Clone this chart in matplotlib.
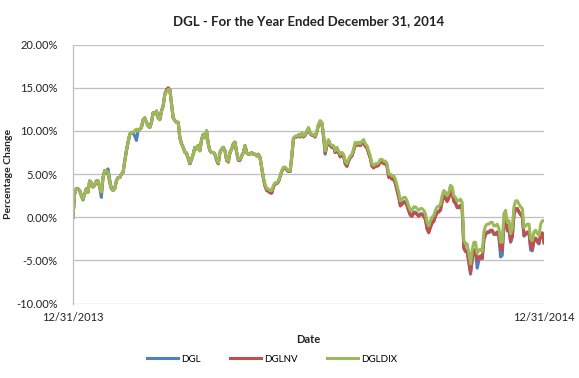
import matplotlib
matplotlib.use("Agg")
import matplotlib.pyplot as plt
import matplotlib.dates as mdates
import numpy as np
from matplotlib.ticker import FuncFormatter
import datetime as dt

start_date = dt.date(2013, 12, 31)
end_date = dt.date(2014, 12, 31)
series_names = ["DGL", "DGLNV", "DGLDIX"]
y_ticks = [-10, -5, 0, 5, 10, 15, 20]

dgldix = [
    0.0, 2.7, 3.3, 3.3, 3.1, 2.5, 2.1, 2.7, 3.3, 2.9,
    4.2, 4.0, 3.5, 3.7, 4.2, 4.2, 3.5, 2.9, 4.6, 5.4,
    5.4, 5.2, 4.2, 3.3, 3.1, 3.3, 4.2, 4.6, 4.6, 5.0,
    5.2, 6.5, 7.7, 8.7, 9.6, 9.8, 9.8, 10.0, 10.2, 10.0,
    10.2, 10.4, 11.3, 11.5, 11.0, 10.6, 10.4, 11.0, 12.1, 11.9,
    12.3, 11.5, 11.3, 12.3, 12.9, 14.2, 14.6, 14.8, 14.8,
    13.1, 11.5, 11.2, 11.0, 11.0, 9.2, 8.5, 8.1, 7.5, 7.5,
    6.9, 6.3, 6.7, 7.3, 8.1, 7.9, 8.3, 7.7, 9.0, 9.6,
    9.2, 10.0, 8.5, 7.7, 7.5, 7.5, 7.3, 6.7, 6.3, 7.5,
    7.9, 8.1, 7.7, 6.7, 6.5, 7.5, 7.9, 8.5, 8.7, 7.5,
    6.7, 6.7, 7.1, 7.5, 8.3, 7.5, 7.3, 7.3, 7.5, 7.3,
    7.3, 7.1, 7.3, 6.9, 5.8, 4.6, 3.8,
    3.3, 3.3, 3.1, 3.1, 3.7, 4.0, 4.0, 4.2, 4.8, 5.4,
    5.8, 5.8, 5.6, 5.4, 5.4, 7.1, 9.2, 9.4, 9.4, 9.6,
    9.4, 9.8, 9.4, 9.6, 10.0, 10.4, 9.8, 9.6, 9.6, 9.4,
    10.0, 10.8, 11.2, 11.0, 9.6, 7.7, 8.5, 9.0, 8.5, 8.3,
    8.3, 7.7, 8.1, 7.7, 7.3, 7.5, 7.3, 6.5, 6.2, 6.7,
    7.1, 7.3, 7.9, 8.7, 8.5, 8.7, 8.5,
    8.8, 9.0, 8.5, 8.3, 7.7, 7.1, 6.2, 6.0, 6.2, 6.2,
    6.3, 6.7, 6.7, 6.5, 6.5, 6.2, 5.0, 5.0, 4.8, 4.8,
    4.4, 3.7, 2.9, 1.9, 2.1, 2.3, 2.3, 1.9, 1.3, 0.8,
    0.8, 1.2, 1.2, 1.0, 0.8, 1.0, 1.0, 0.8, 0.4, -0.6,
    -1.0, -0.4, 0.0, 0.2, 0.8, 1.2, 1.3, 1.5, 2.5, 3.1,
    2.9, 2.5, 2.9, 3.7, 3.5, 2.5, 2.3,
    1.9, 1.9, 2.1, 1.7, -2.7, -3.1, -3.1, -4.2, -5.4, -3.8,
    -2.9, -2.9, -4.2, -3.8, -3.7, -4.0, -1.7, -1.0, -0.8, -0.8,
    -0.6, -0.6, -1.0, -1.0, -0.8, -1.3, -2.9, -2.9, 0.4, 0.8,
    -0.6, -0.4, -1.9, -1.3, 1.2, 1.9, 1.9, 1.5, 1.2, 1.0,
    -1.2, -1.0, -0.8, -0.8, -2.5, -2.7, -1.7, -1.5, -1.9, -2.1,
    -0.8, -0.4, -0.4,
]

dglnv = [
    0.0, 2.7, 3.3, 3.3, 3.1, 2.5, 2.1, 2.7, 3.3, 2.9,
    4.2, 4.0, 3.5, 3.7, 4.2, 4.2, 3.5, 2.8, 4.6, 5.4,
    5.4, 5.0, 4.0, 3.3, 3.1, 3.3, 4.2, 4.6, 4.6, 5.0,
    5.2, 6.5, 7.7, 8.7, 9.6, 9.8, 9.8, 10.0, 10.1, 10.0,
    10.2, 10.4, 11.3, 11.5, 11.0, 10.6, 10.4, 11.0, 12.1, 11.9,
    12.3, 11.5, 11.3, 12.3, 12.9, 14.3, 14.8, 15.0, 14.8,
    13.1, 11.5, 11.2, 11.0, 11.0, 9.2, 8.5, 8.1, 7.5, 7.4,
    6.8, 6.2, 6.7, 7.3, 8.1, 7.9, 8.3, 7.7, 9.0, 9.6,
    9.2, 10.0, 8.5, 7.7, 7.5, 7.5, 7.3, 6.6, 6.2, 7.5,
    7.9, 8.1, 7.7, 6.6, 6.4, 7.5, 7.9, 8.5, 8.7, 7.5,
    6.6, 6.6, 7.1, 7.5, 8.3, 7.5, 7.3, 7.3, 7.5, 7.3,
    7.3, 7.1, 7.3, 6.9, 5.7, 4.5, 3.6,
    3.1, 3.0, 2.9, 2.8, 3.5, 3.9, 3.9, 4.1, 4.7, 5.3,
    5.7, 5.7, 5.5, 5.3, 5.3, 7.0, 9.1, 9.3, 9.3, 9.5,
    9.3, 9.7, 9.3, 9.5, 9.9, 10.3, 9.7, 9.5, 9.5, 9.3,
    9.9, 10.7, 11.1, 10.9, 9.4, 7.5, 8.3, 8.9, 8.3, 8.1,
    8.1, 7.5, 7.9, 7.5, 7.0, 7.3, 7.1, 6.2, 5.9, 6.5,
    6.9, 7.1, 7.7, 8.5, 8.3, 8.5, 8.3,
    8.5, 8.7, 8.2, 8.0, 7.4, 6.8, 5.9, 5.7, 5.9, 5.9,
    6.0, 6.4, 6.4, 6.2, 6.2, 5.9, 4.6, 4.6, 4.4, 4.4,
    3.9, 3.1, 2.3, 1.3, 1.5, 1.7, 1.7, 1.3, 0.7, 0.2,
    0.1, 0.5, 0.5, 0.3, 0.1, 0.3, 0.3, 0.1, -0.3, -1.4,
    -1.8, -1.2, -0.7, -0.5, 0.1, 0.5, 0.6, 0.8, 1.8, 2.4,
    2.2, 1.8, 2.2, 3.0, 2.8, 1.8, 1.6,
    1.1, 1.1, 1.3, 0.9, -3.6, -4.0, -4.0, -5.2, -6.4, -4.8,
    -3.8, -3.8, -5.0, -4.6, -4.5, -4.8, -2.6, -1.9, -1.7, -1.7,
    -1.5, -1.5, -1.9, -1.9, -1.7, -2.2, -3.8, -3.8, -0.5, -0.1,
    -1.5, -1.3, -2.8, -2.2, 0.3, 1.0, 1.0, 0.6, 0.3, 0.1,
    -2.1, -1.9, -1.7, -1.7, -3.5, -3.7, -2.6, -2.4, -2.8, -3.0,
    -1.9, -1.8, -2.9,
]

dgl = [
    0.0, 2.7, 3.3, 3.3, 3.1, 2.5, 2.0, 2.7, 3.3, 2.9,
    4.2, 4.0, 3.5, 3.7, 4.2, 4.2, 3.5, 2.3, 4.6, 5.4,
    5.4, 5.6, 4.4, 3.3, 3.1, 3.3, 4.2, 4.6, 4.6, 5.0,
    5.2, 6.5, 7.7, 8.7, 9.6, 9.8, 9.8, 9.4, 8.9, 10.0,
    10.2, 10.4, 11.3, 11.5, 11.0, 10.6, 10.4, 11.0, 12.1, 11.9,
    12.3, 11.5, 11.3, 12.3, 12.9, 14.2, 14.6, 14.8, 14.8,
    13.1, 11.5, 11.2, 11.0, 11.0, 9.2, 8.5, 8.1, 7.5, 7.4,
    6.8, 6.2, 6.7, 7.3, 8.1, 7.9, 8.3, 7.7, 9.0, 9.6,
    9.2, 10.0, 8.5, 7.7, 7.5, 7.5, 7.3, 6.6, 6.2, 7.5,
    7.9, 8.1, 7.7, 6.6, 6.4, 7.5, 7.9, 8.5, 8.7, 7.5,
    6.6, 6.6, 7.1, 7.5, 8.3, 7.5, 7.3, 7.3, 7.5, 7.3,
    7.3, 7.1, 7.3, 6.9, 5.7, 4.5, 3.6,
    3.1, 3.0, 2.8, 2.8, 3.5, 3.9, 3.9, 4.1, 4.7, 5.3,
    5.7, 5.7, 5.5, 5.3, 5.3, 7.0, 9.1, 9.3, 9.3, 9.5,
    9.3, 9.7, 9.3, 9.5, 9.9, 10.3, 9.7, 9.5, 9.5, 9.3,
    9.9, 10.7, 11.1, 10.9, 9.4, 7.3, 8.3, 8.9, 8.3, 8.1,
    8.1, 7.5, 7.9, 7.5, 7.0, 7.3, 7.1, 6.2, 5.9, 6.5,
    6.9, 7.1, 7.7, 8.5, 8.3, 8.5, 8.3,
    8.6, 8.8, 8.3, 8.1, 7.5, 6.9, 6.0, 5.8, 6.0, 6.0,
    6.1, 6.5, 6.5, 6.3, 6.3, 6.0, 4.7, 4.7, 4.5, 4.5,
    4.0, 3.2, 2.4, 1.4, 1.6, 1.8, 1.8, 1.4, 0.8, 0.3,
    0.2, 0.6, 0.6, 0.4, 0.2, 0.4, 0.4, 0.2, -0.2, -1.3,
    -1.7, -1.1, -0.6, -0.4, 0.2, 0.6, 0.7, 0.9, 1.9, 2.5,
    2.3, 1.9, 2.3, 3.1, 2.9, 1.9, 1.7,
    1.2, 1.2, 1.4, 1.0, -3.5, -3.9, -3.9, -5.3, -6.6, -5.0,
    -3.8, -3.9, -5.9, -5.0, -4.5, -4.8, -2.6, -2.0, -1.8, -1.8,
    -1.6, -1.6, -2.0, -2.0, -1.8, -2.3, -4.6, -4.4, -0.5, -0.1,
    -1.6, -1.4, -2.9, -2.3, 0.3, 1.0, 1.0, 0.6, 0.3, 0.1,
    -2.2, -2.0, -1.8, -1.8, -3.8, -3.9, -2.7, -2.5, -2.9, -3.1,
    -2.0, -1.9, -3.0,
]

plt.rcParams['font.family'] = ['Lato', 'DejaVu Sans']

fig = plt.figure(figsize=(5.79, 3.78), dpi=100)
ax = fig.add_axes([0.126, 0.197, 0.8136, 0.685])

n = len(dgldix)
x0 = mdates.date2num(start_date)
x1 = mdates.date2num(end_date)
xs = np.linspace(x0, x1, n)

colors = ["#4F81BD", "#C0504D", "#9BBB59"]
for name, vals, c in zip(series_names, [dgl, dglnv, dgldix], colors):
    ax.plot(xs, vals, color=c, lw=2.2, label=name, solid_joinstyle='round')

ax.set_xlim(x0, x1)
ax.set_ylim(min(y_ticks), max(y_ticks))
ax.set_yticks(y_ticks)
ax.yaxis.set_major_formatter(FuncFormatter(lambda v, p: f"{v:.2f}%"))
ax.set_xticks([x0, x1])
ax.set_xticklabels([start_date.strftime("%m/%d/%Y"), end_date.strftime("%m/%d/%Y")])

ax.grid(axis='y', color='#BFBFBF', lw=0.9)
ax.set_axisbelow(True)
for s in ['top', 'right', 'bottom']:
    ax.spines[s].set_visible(False)
ax.spines['left'].set_color('#BFBFBF')
ax.spines['left'].set_linewidth(0.9)
ax.tick_params(axis='both', length=0, labelsize=8, colors='#222222')
ax.tick_params(axis='y', pad=11)
ax.tick_params(axis='x', pad=6)

ax.set_title("DGL - For the Year Ended December 31, 2014", fontsize=9.5,
             fontweight='bold', pad=14, color='#222222')
ax.set_xlabel("Date", fontsize=8, fontweight='bold', labelpad=8, color='#222222')
ax.set_ylabel("Percentage Change", fontsize=7.5, fontweight='bold', color='#222222')
ax.yaxis.set_label_coords(-0.128, 0.5)

fig.legend(loc='lower center', bbox_to_anchor=(0.47, 0.015), ncol=3, frameon=False,
           fontsize=7, handlelength=3.2, columnspacing=3.0, handletextpad=0.3)

fig.savefig("out.png", dpi=100)
